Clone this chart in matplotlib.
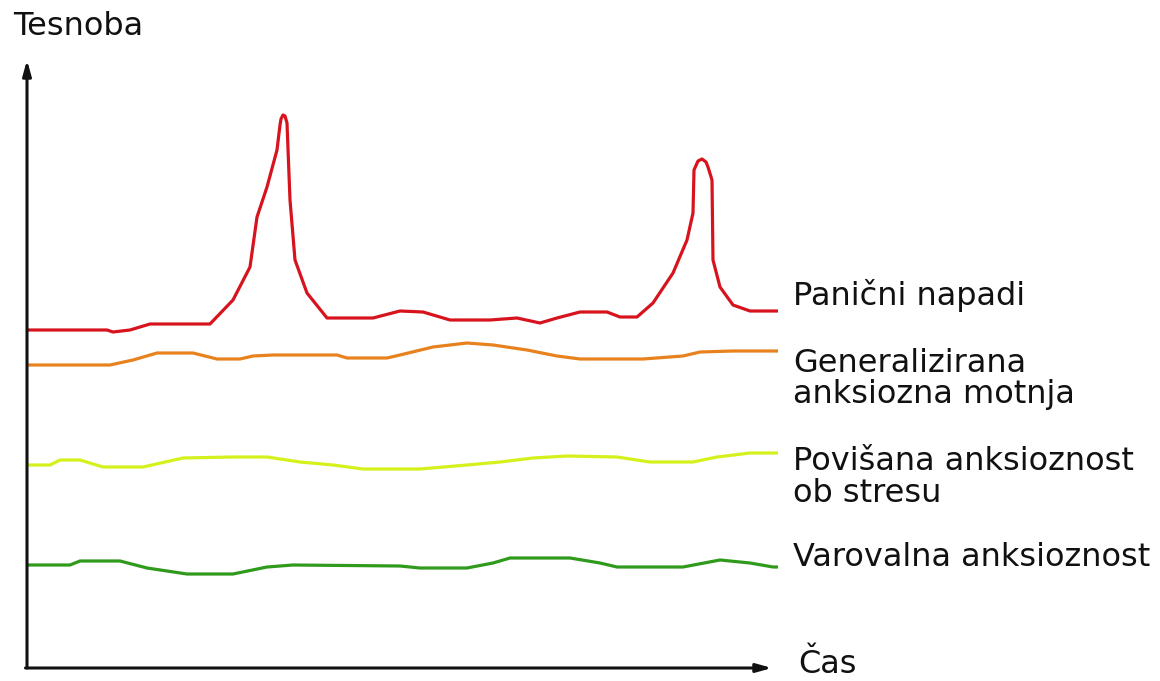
import matplotlib
matplotlib.use("Agg")
import matplotlib.pyplot as plt

# time axis (arbitrary units) and anxiety level (arbitrary units)
panic_t = [0, 79, 85, 102, 122, 182, 205, 222, 229, 239, 249, 252, 253, 255, 257, 259, 262, 267, 279, 299,
           345, 372, 395, 422, 462, 489, 512, 529, 552, 579, 592, 609, 625, 645, 659, 665, 666,
           670, 674, 678, 680, 684, 685, 692, 705, 722, 750]
panic_v = [338, 338, 336, 338, 344, 344, 368, 401, 451, 481, 518, 543, 549, 553, 552, 545, 468, 408, 375, 350,
           350, 357, 356, 348, 348, 350, 345, 350, 356, 356, 351, 351, 365, 395, 428, 455, 498,
           507, 509, 506, 501, 488, 408, 381, 363, 357, 357]

gad_t = [0, 82, 105, 129, 165, 189, 212, 225, 245, 309, 319, 359, 372, 405, 439, 465, 499, 529,
         552, 615, 655, 672, 705, 750]
gad_v = [303, 303, 308, 315, 315, 309, 309, 312, 313, 313, 310, 310, 313, 321, 325, 323, 318, 312,
         309, 309, 312, 316, 317, 317]

stress_t = [0, 22, 32, 52, 75, 115, 155, 205, 239, 272, 305, 335, 392, 439, 472, 505, 539, 589,
            622, 665, 689, 722, 750]
stress_v = [203, 203, 208, 208, 201, 201, 210, 211, 211, 206, 203, 199, 199, 203, 206, 210, 212, 211,
            206, 206, 211, 215, 215]

normal_t = [0, 42, 52, 92, 119, 159, 205, 239, 265, 372, 392, 439, 465, 482, 542, 572, 589, 655,
            692, 722, 745, 750]
normal_v = [103, 103, 107, 107, 100, 94, 94, 101, 103, 102, 100, 100, 105, 110, 110, 105, 101, 101,
            108, 105, 101, 101]

labels = ["Panični napadi", "Generalizirana\nanksiozna motnja",
          "Povišana anksioznost\nob stresu", "Varovalna anksioznost"]
label_baselines = [363, 296, 198, 102]
colors = ["#d7141e", "#e8821e", "#d6f01c", "#2f9a1c"]
y_title = "Tesnoba"
x_title = "Čas"

plt.rcParams['font.family'] = ['DejaVu Sans']

fig = plt.figure(figsize=(11.6, 6.81), dpi=100)
ax = fig.add_axes([0, 0, 1, 1])
ax.set_xlim(-28, 1132)
ax.set_ylim(-13, 668)
ax.axis('off')

series = [(panic_t, panic_v), (gad_t, gad_v), (stress_t, stress_v), (normal_t, normal_v)]
for (t, v), c in zip(series, colors):
    ax.plot(t, v, color=c, lw=2.3, solid_joinstyle='round', solid_capstyle='butt')

line_gap = 31.5
for lab, base in zip(labels, label_baselines):
    for i, part in enumerate(lab.split("\n")):
        ax.text(765, base - i * line_gap, part, fontsize=23, va='baseline', ha='left',
                color='#111111')

# axes with arrows
ax.annotate('', xy=(-1, 608), xytext=(-1, 0),
            arrowprops=dict(arrowstyle='-|>,head_length=0.9,head_width=0.25', lw=2.2, color='#111111',
                            shrinkA=0, shrinkB=0))
ax.annotate('', xy=(744, 0), xytext=(-2.5, 0),
            arrowprops=dict(arrowstyle='-|>,head_length=0.9,head_width=0.25', lw=2.2, color='#111111',
                            shrinkA=0, shrinkB=0))

ax.text(-15, 633, y_title, fontsize=23, va='baseline', ha='left', color='#111111')
ax.text(770, -5, x_title, fontsize=23, va='baseline', ha='left', color='#111111')

fig.savefig("out.png", dpi=100)
